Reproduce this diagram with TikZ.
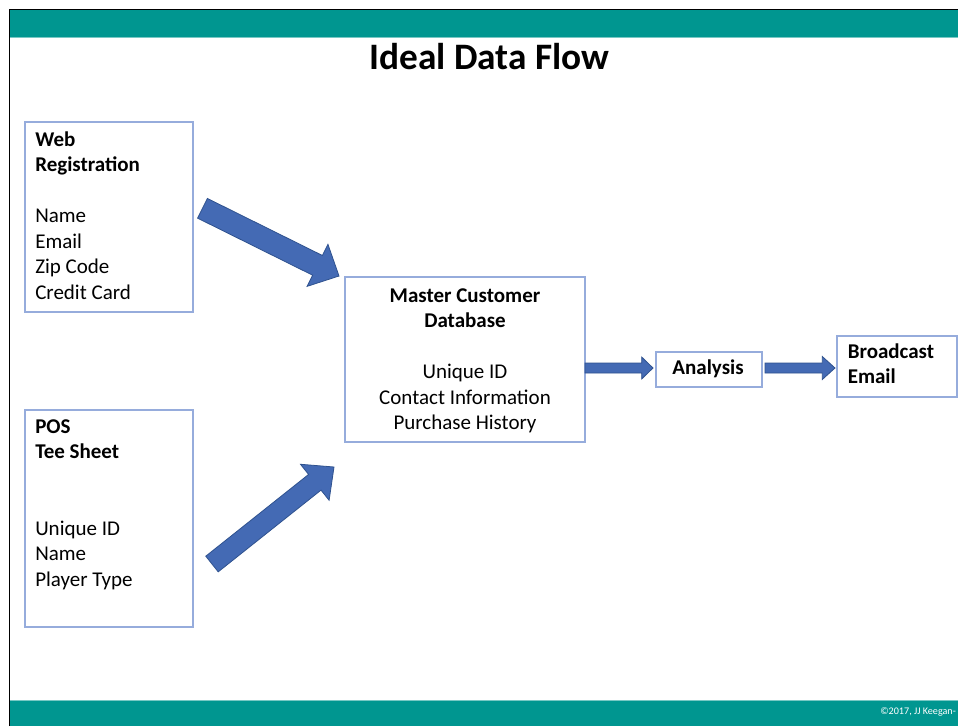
\documentclass[tikz,border=0pt]{standalone}
\usepackage{fontspec}
\setmainfont{Carlito}
\usetikzlibrary{calc}
\definecolor{tealbar}{RGB}{0,150,144}
\definecolor{tealline}{RGB}{120,200,196}
\definecolor{boxline}{RGB}{150,172,220}
\definecolor{arrowfill}{RGB}{68,106,180}
\definecolor{arrowline}{RGB}{47,82,143}
\newcommand\normsp{\spaceskip=0pt\xspaceskip=0pt\relax}
\tikzset{
  box/.style={draw=boxline, line width=1pt, inner sep=0pt, fill=white},
  body/.style={font=\fontsize{15.75pt}{19.1pt}\selectfont, inner sep=0pt},
  blockarrow/.style={fill=arrowfill, draw=arrowline, line width=0.6pt, line join=miter},
}
% #1 tail, #2 tip, #3 half shaft, #4 half head, #5 head length
\newcommand\blockarrow[5]{%
  \path ($(#2)!#5!(#1)$) coordinate (ba-h);
  \filldraw[blockarrow]
    ($(#1)!#3!90:(#2)$) -- ($(ba-h)!#3!90:(#2)$) -- ($(ba-h)!#4!90:(#2)$) --
    (#2) --
    ($(ba-h)!#4!-90:(#2)$) -- ($(ba-h)!#3!-90:(#2)$) -- ($(#1)!#3!-90:(#2)$) -- cycle;
}
\begin{document}
\begin{tikzpicture}[x=0.75pt,y=-0.75pt]
\useasboundingbox (0,0) rectangle (958,726);
\clip (0,0) rectangle (958,726);
\fill[white] (0,0) rectangle (958,726);
% bars
\fill[tealbar] (10,10) rectangle (958,37);
\draw[tealline, line width=0.75pt] (10,37.5) -- (958,37.5);
\fill[tealbar] (10,701) rectangle (958,726);
\draw[tealline, line width=0.75pt] (10,700.5) -- (958,700.5);
\draw[black, line width=1.1pt] (9.5,726) -- (9.5,9.5) -- (958,9.5);
\node[font=\fontsize{7.6pt}{9pt}\selectfont, text=white, anchor=base west, inner sep=0pt] (copy) at (880,714.5) {©2017, JJ Keegan-};
% title
\node[font=\fontsize{28pt}{34pt}\selectfont\bfseries, anchor=base, inner sep=0pt] (title) at (489.5,69.3) {Ideal Data Flow};
% boxes
\node[box, minimum width=126pt, minimum height=142.5pt] (web) at (109,217) {};
\node[box, minimum width=126pt, minimum height=162.75pt] (pos) at (109,518.5) {};
\node[box, minimum width=180pt, minimum height=123.75pt] (master) at (465,359.5) {};
\node[box, minimum width=79.5pt, minimum height=26.25pt] (analysis) at (709,369.5) {};
\node[box, minimum width=90pt, minimum height=45.75pt] (broadcast) at (897,366.5) {};
% texts
\node[body, anchor=base west, text width=120pt, align=left] (webtxt) at (35,146.5)
  {\normsp\textbf{Web}\\\textbf{Registration}\\\mbox{}\\Name\\Email\\Zip Code\\Credit Card};
\node[body, anchor=base west, text width=120pt, align=left] (postxt) at (35,433.5)
  {\normsp\textbf{POS}\\\textbf{Tee Sheet}\\\mbox{}\\\mbox{}\\Unique ID\\Name\\Player Type};
\node[body, anchor=base, text width=180pt] (mastertxt) at (465,302.3)
  {\centering\normsp\textbf{Master Customer}\\\textbf{Database}\\\mbox{}\\Unique ID\\Contact Information\\Purchase History\par};
\node[body, anchor=base, font=\fontsize{15.75pt}{19.1pt}\selectfont\bfseries] (analysistxt) at (708,374.3) {Analysis};
\node[body, anchor=base west, text width=80pt, align=left, font=\fontsize{15.75pt}{19.1pt}\selectfont\bfseries] (broadtxt) at (847.5,358.3)
  {\normsp Broadcast\\Email};
% arrow end points
\coordinate (a1t) at (202.5,208.3);
\coordinate (a1h) at (339,276);
\coordinate (a2t) at (212,564);
\coordinate (a2h) at (334,467);
\coordinate (a3t) at (585,368);
\coordinate (a3h) at (653,368);
\coordinate (a4t) at (765,368);
\coordinate (a4h) at (835,368);
\blockarrow{a1t}{a1h}{8.25pt}{17.6pt}{18pt}
\blockarrow{a2t}{a2h}{7.5pt}{17.25pt}{18.4pt}
\blockarrow{a3t}{a3h}{3.75pt}{8.25pt}{8.5pt}
\blockarrow{a4t}{a4h}{3.75pt}{8.6pt}{9.5pt}
\end{tikzpicture}
\end{document}
